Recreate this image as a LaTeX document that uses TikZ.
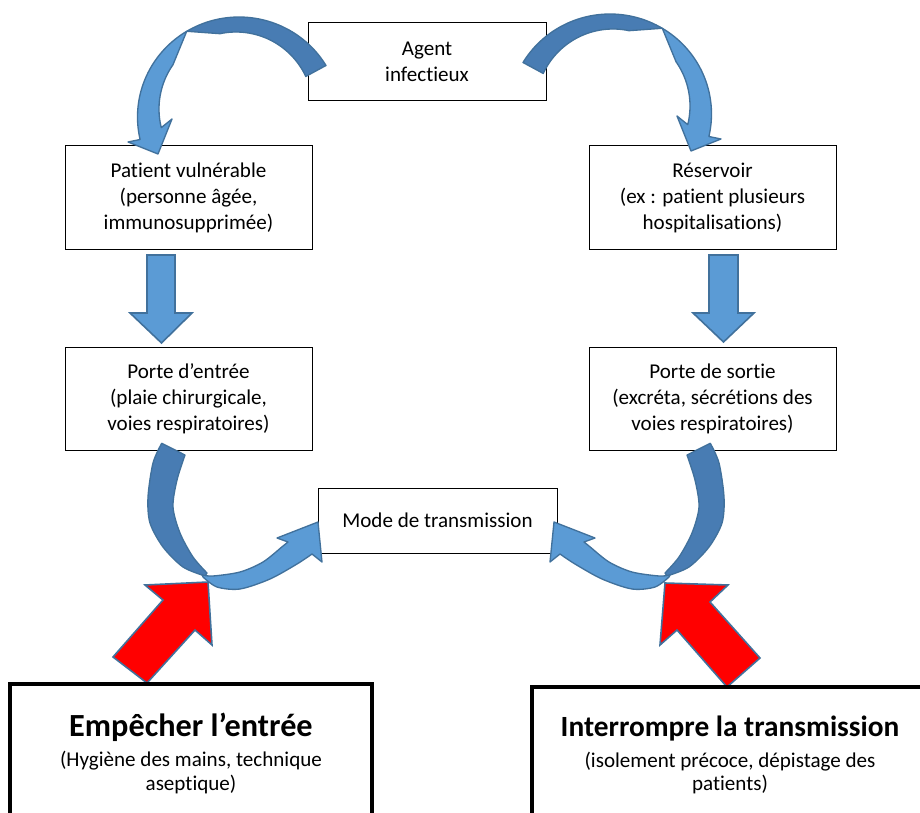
\documentclass[tikz,border=0pt]{standalone}
\usepackage{fontspec}
\setmainfont{Carlito}[Ligatures=NoCommon]
\usetikzlibrary{fit}
\definecolor{lightblue}{HTML}{5B9BD5}
\definecolor{darkblue}{HTML}{487CB3}
\definecolor{edgeblue}{HTML}{41719C}
\newcommand\toparrowshape{%
 \path[darkpart] plot[domain=-31:-121, samples=50] ({239+101.5*cos(\x)},{117+100*sin(\x)}) -- plot[domain=-102:-25, samples=50] ({236+77*cos(\x)},{109+77*sin(\x)}) -- cycle;
 \path[lightpart] plot[domain=-121:-193, samples=50] ({239+101.5*cos(\x)},{117+100*sin(\x)}) -- (128,142) -- (158,154) -- (172,119) -- plot[domain=-194:-145, samples=50] ({236+77*cos(\x)},{109+77*sin(\x)}) -- cycle;
}
\newcommand\bottomarrowshape{%
 \path[darkpart] plot[smooth] coordinates {(161.7,443.3) (153,463) (148,497) (150,523) (163,547) (183,567) (205,576)} -- plot[smooth] coordinates {(207,573) (193,557) (180,533) (173,507) (177,480) (185,455)} -- cycle;
 \path[lightpart] plot[smooth] coordinates {(202,575) (213,576) (240,572) (263,562) (283,546) (288,542)} -- (277,538) -- (318,522) -- (322,562) -- plot[smooth] coordinates {(312,554) (297,564) (270,579) (240,589) (217,587) (203,577)} -- cycle;
}
\begin{document}
\begin{tikzpicture}[x=0.75pt, y=-0.75pt,
  box/.style={draw=black, line width=0.75pt, fill=white, inner sep=0pt},
  boxtext/.style={anchor=center, inner sep=0pt, align=center, font=\fontsize{15.8pt}{19.5pt}\selectfont},
  lightpart/.style={fill=lightblue, draw=edgeblue, line width=1pt, line join=round},
  darkpart/.style={fill=darkblue, draw=edgeblue, line width=1pt, line join=round},
  downarrow/.style={fill=lightblue, draw=edgeblue, line width=1.2pt, line join=miter},
  redarrow/.style={fill=red, draw=edgeblue, line width=1.2pt, line join=miter},
  bigbox/.style={draw=black, line width=2.6pt},
  subtext/.style={anchor=base, font=\fontsize{15.8pt}{19pt}\selectfont}
  ]
\useasboundingbox (0,0) rectangle (920,813);
\clip (0,0) rectangle (920,813);

% boxes
\node[box, fit={(308,23) (546,101)}] (agent) {};
\node[box, fit={(65,146) (312,249)}] (patient) {};
\node[box, fit={(589,146) (836,249)}] (reservoir) {};
\node[box, fit={(65,347) (312,450)}] (entree) {};
\node[box, fit={(589,347) (836,450)}] (sortie) {};
\node[box, fit={(318,488) (557,553)}] (mode) {};
\node[boxtext] (agenttxt) at (agent.center) {Agent\\infectieux};
\node[boxtext] (patienttxt) at (patient.center) {Patient vulnérable\\(personne âgée,\\immunosupprimée)};
\node[boxtext] (reservoirtxt) at (reservoir.center) {Réservoir\\(ex : patient plusieurs\\hospitalisations)};
\node[boxtext] (entreetxt) at (entree.center) {Porte d’entrée\\(plaie chirurgicale,\\voies respiratoires)};
\node[boxtext] (sortietxt) at (sortie.center) {Porte de sortie\\(excréta, sécrétions des\\voies respiratoires)};
\node[boxtext] (modetxt) at (mode.center) {Mode de transmission};

% straight down arrows
\path[downarrow] (147,255) -- (175,255) -- (175,313) -- (192,313) -- (161.5,343) -- (130,313) -- (147,313) -- cycle;
\path[downarrow] (709,255) -- (738,255) -- (738,313) -- (754,313) -- (723.5,342) -- (693,313) -- (709,313) -- cycle;

% curved arrows
\toparrowshape
\begin{scope}[shift={(849,-3)}, xscale=-1]
\toparrowshape
\end{scope}
\bottomarrowshape
\begin{scope}[shift={(872,0)}, xscale=-1]
\bottomarrowshape
\end{scope}

% red arrows
\path[redarrow] (208,582) -- (145,585) -- (163,600) -- (113,657) -- (147,683) -- (195,630) -- (212,645) -- cycle;
\path[redarrow] (665,583) -- (728,585) -- (710,602) -- (760,658) -- (727,687) -- (677,630) -- (660,645) -- cycle;

% bottom boxes
\draw[bigbox] (10,830) -- (10,684) -- (372,684) -- (372,830);
\draw[bigbox] (532,830) -- (532,687) -- (940,687);
\node[anchor=base, font=\bfseries\fontsize{24.2pt}{29pt}\selectfont] (t1) at (191,736.7) {Empêcher l’entrée};
\node[subtext] (s1a) at (191,766.7) {(Hygiène des mains, technique};
\node[subtext] (s1b) at (191,790.7) {aseptique)};
\node[anchor=base, font=\bfseries\fontsize{22pt}{27pt}\selectfont] (t2) at (730,736.7) {Interrompre la transmission};
\node[subtext] (s2a) at (730,767) {(isolement précoce, dépistage des};
\node[subtext] (s2b) at (730,790.5) {patients)};
\end{tikzpicture}
\end{document}
